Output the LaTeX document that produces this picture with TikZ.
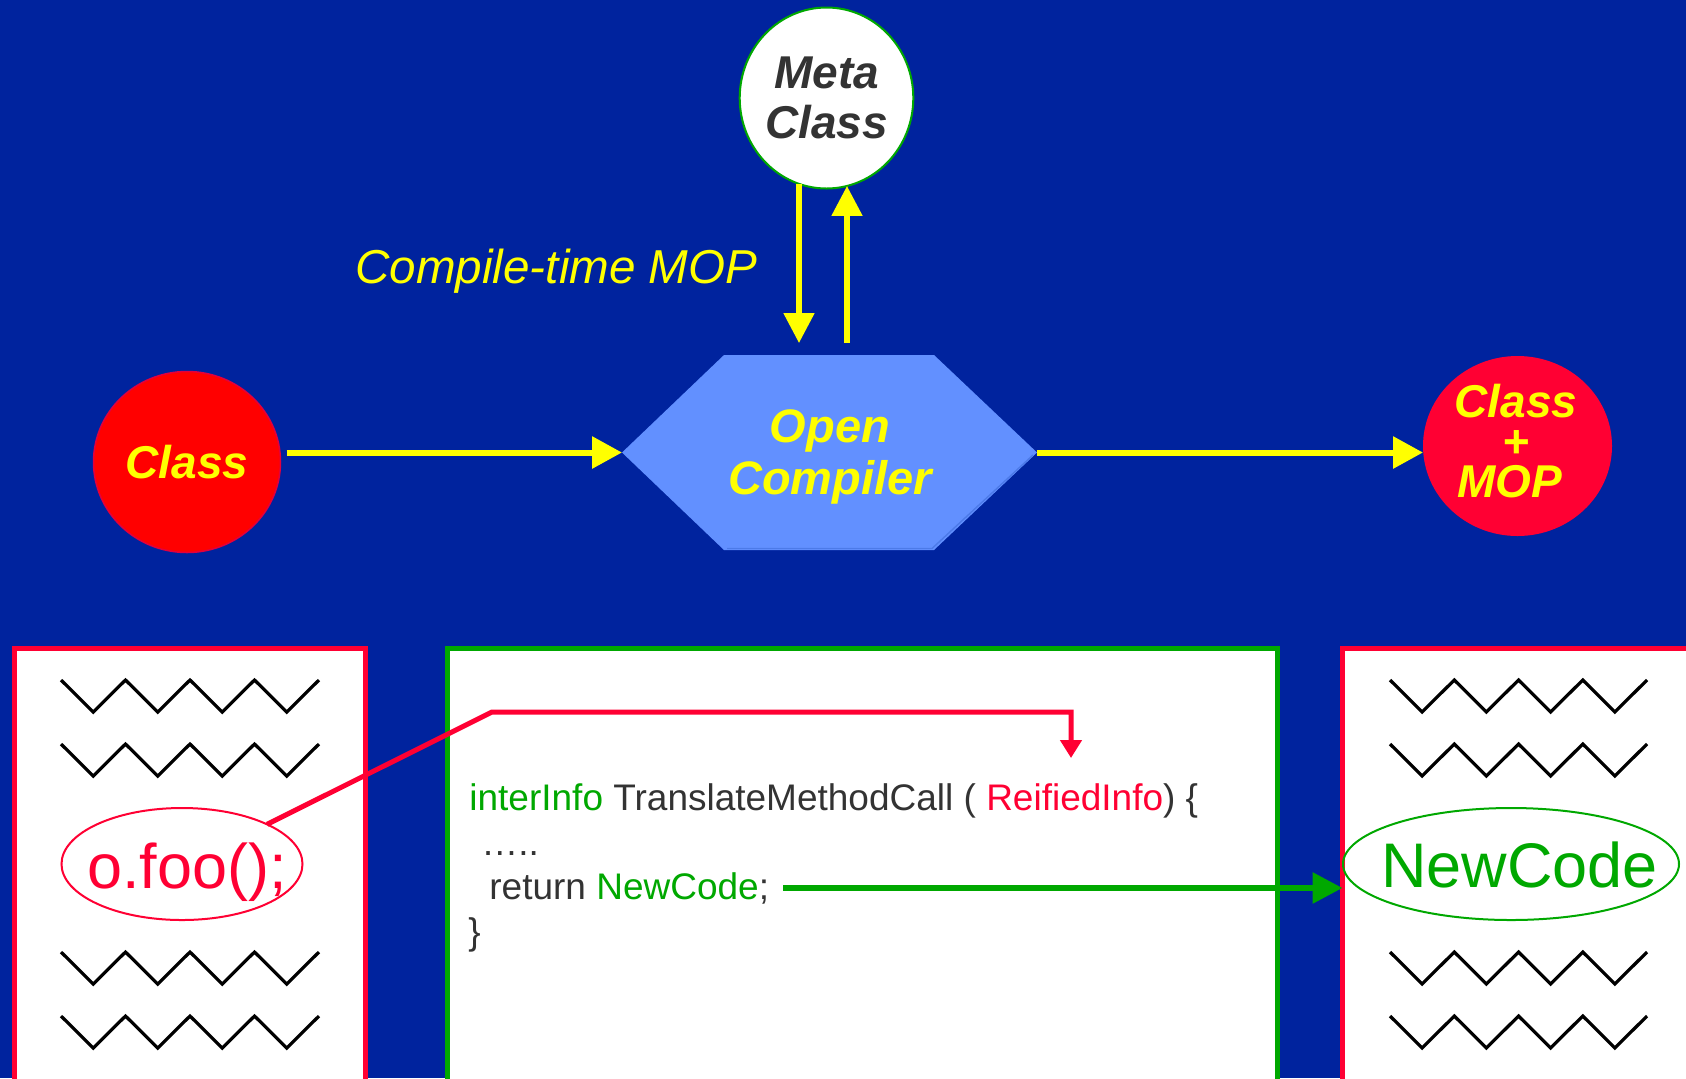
\documentclass[tikz,border=0pt]{standalone}
\usepackage{fontspec}
\setmainfont{Liberation Sans}
\usetikzlibrary{arrows.meta,shapes.geometric}

\definecolor{bgblue}{RGB}{0,35,158}
\definecolor{hexblue}{RGB}{98,144,255}
\definecolor{hexedge}{RGB}{76,122,232}
\definecolor{ttyellow}{RGB}{255,255,0}
\definecolor{cred}{RGB}{255,0,51}
\definecolor{ringred}{RGB}{226,0,62}
\definecolor{cgreen}{RGB}{0,168,0}
\definecolor{cgray}{RGB}{51,51,51}

\begin{document}
\begin{tikzpicture}[x=0.5pt,y=-0.5pt,
  title/.style={font=\fontsize{23}{25}\selectfont\bfseries\itshape, align=center, inner sep=0pt},
  blob/.style={ellipse, inner sep=0pt, outer sep=0pt},
  yarrow/.style={draw=ttyellow, line width=3pt, -{Triangle[length=15pt,width=15.5pt]}},
  yarrowv/.style={draw=ttyellow, line width=2.6pt, -{Triangle[length=15pt,width=15pt]}},
  rarrow/.style={draw=cred, line width=2.5pt, line join=miter, -{Triangle[length=9pt,width=10.5pt]}},
  garrow/.style={draw=cgreen, line width=3pt, -{Triangle[length=15pt,width=15pt]}},
  pagebox/.style={draw, fill=white, line width=2.5pt, anchor=north west, outer sep=0pt, inner sep=0pt},
  zig/.style={black, line width=1.6pt, line join=miter},
  codeline/.style={anchor=base west, inner sep=0pt, text=cgray, font=\fontsize{18.5}{22}\selectfont},
  callout/.style={blob, line width=1pt},
  bigcode/.style={inner sep=0pt, font=\fontsize{31.5}{36}\selectfont}
]
% canvas
\useasboundingbox (0,0) rectangle (1686,1078);
\fill[bgblue] (0,0) rectangle (1686,1078);
\clip (0,0) rectangle (1686,1078);

% ---------- upper part: compile-time MOP ----------
\node[blob, fill=white, draw=cgreen, line width=1pt, minimum width=84.5pt, minimum height=90.5pt,
      title, text=cgray] (meta) at (826.5,98) {Meta\\Class};

% open compiler hexagon
\fill[hexblue] (724,355) -- (934,355) -- (1037,452.5) -- (934,550) -- (724,550) -- (622,452.5) -- cycle;
\draw[hexedge, line width=0.7pt] (1033,455) -- (932,548.5) -- (727,548.5);
\coordinate (ocW) at (622,452.5);
\coordinate (ocE) at (1037,452.5);
\node[title, text=ttyellow, font=\fontsize{23.5}{26}\selectfont\bfseries\itshape] (oc) at (830,457) {Open\\Compiler};

\node[blob, fill=red, draw=ringred, line width=0.75pt, minimum width=93.5pt, minimum height=90.5pt,
      title, text=ttyellow] (cls) at (187,462) {Class};
\node[blob, fill=cred, minimum width=94.5pt, minimum height=90pt] (cmop) at (1517.5,446) {};
\node[title, text=ttyellow, font=\fontsize{23}{20}\selectfont\bfseries\itshape]
      (cmoptxt) at (1516,441) {Class\\+\\MOP\hspace*{6pt}};

\node[anchor=base west, inner sep=0pt, text=ttyellow, font=\fontsize{23.8}{28}\selectfont\itshape]
      (ctmop) at (355,283) {Compile-time MOP};

% meta-level round trip
\coordinate (mcin) at (799,343);
\coordinate (mcout) at (847,343);
\draw[yarrowv] (mcin |- meta.252) -- (mcin);
\draw[yarrowv] (mcout) -- (mcout |- meta.283);

% base-level flow
\draw[yarrow, shorten <=3pt] (cls.east |- ocW) -- (ocW);
\draw[yarrow] (ocE) -- (ocE -| cmop.west);

% ---------- lower part: translation of a method call ----------
\node[pagebox, draw=cred, minimum width=175.5pt, minimum height=225pt] (srcbox) at (14.5,648.5) {};
\node[pagebox, draw=cgreen, minimum width=415pt, minimum height=225pt] (mopbox) at (447.5,648.5) {};
\node[pagebox, draw=cred, minimum width=200pt, minimum height=225pt] (outbox) at (1342.5,648.5) {};

% placeholder source lines
\foreach \y in {680,744,952,1016}{
  \draw[zig] (61,\y) \foreach \i in {1,...,4}{ -- ++(32.25,32) -- ++(32.25,-32)};
  \draw[zig] (1390,\y) \foreach \i in {1,...,4}{ -- ++(32.125,32) -- ++(32.125,-32)};
}

% the call and its replacement
\node[callout, draw=cred, minimum width=120.5pt, minimum height=56pt] (ofoo) at (182,864) {};
\node[bigcode, text=cred, font=\fontsize{31.5}{36}\selectfont] (ofootxt) at (187,872) {o.foo();};
\node[callout, draw=cgreen, minimum width=168pt, minimum height=56pt] (newcode) at (1511,864) {};
\node[bigcode, text=cgreen] (newcodetxt) at (1519.5,864.5) {NewCode};

% metaobject code
\node[codeline] (sig) at (469,810) {\textcolor{cgreen}{interInfo} TranslateMethodCall ( \textcolor{cred}{ReifiedInfo}) \{};
\node[codeline] (dots) at (481,855) {…..};
\node[codeline] (ret) at (489,899) {return \textcolor{cgreen}{NewCode};};
\node[codeline] (close) at (468,944) {\}};

% connectors
\coordinate (bend) at (492,712);
\coordinate (reif) at (1071,758);
\draw[rarrow] (ofoo.25) -- (bend) -| (reif);
\draw[garrow, shorten <=7pt] (ret.east) -- (ret.east -| outbox.west);
\end{tikzpicture}
\end{document}
